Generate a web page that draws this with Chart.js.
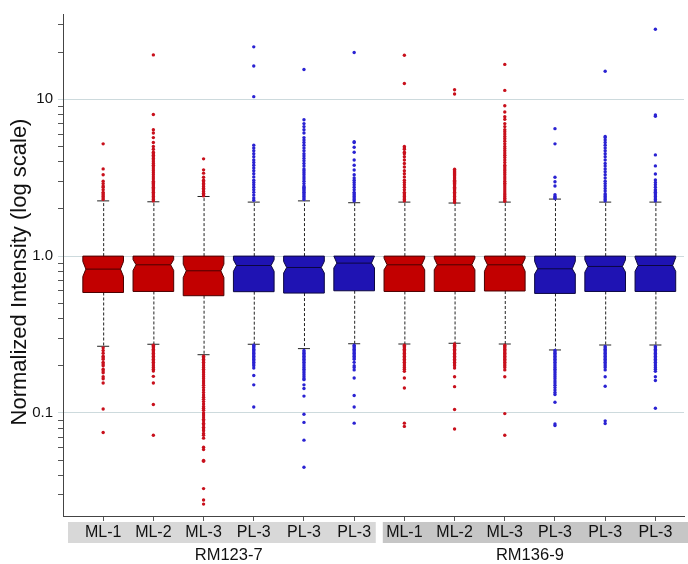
<!DOCTYPE html>
<html>
<head>
<meta charset="utf-8">
<script src="https://cdn.jsdelivr.net/npm/chart.js@4/dist/chart.umd.min.js"></script>
<style>
  html, body { margin: 0; padding: 0; background: #fff; }
  #wrap { width: 688px; height: 564px; }
</style>
</head>
<body>
<div id="wrap"><canvas id="intensityChart"></canvas></div>
<script>
const categories = ['ML-1', 'ML-2', 'ML-3', 'PL-3', 'PL-3', 'PL-3', 'ML-1', 'ML-2', 'ML-3', 'PL-3', 'PL-3', 'PL-3'];
const groups = ['RM123-7', 'RM136-9'];
const yTitle = 'Normalized Intensity (log scale)';

// box statistics
const q1 = [0.586, 0.595, 0.559, 0.593, 0.581, 0.601, 0.595, 0.595, 0.599, 0.578, 0.595, 0.595];
const q3 = [1.0, 1.0, 1.0, 1.0, 1.0, 1.0, 1.0, 1.0, 1.0, 1.0, 1.0, 1.0];
const medians = [0.826, 0.88, 0.806, 0.871, 0.846, 0.902, 0.88, 0.88, 0.88, 0.83, 0.859, 0.871];
const notchLow = [0.741, 0.81, 0.73, 0.80, 0.78, 0.84, 0.818, 0.818, 0.80, 0.768, 0.79, 0.80];
const notchHigh = [0.924, 0.95, 0.889, 0.947, 0.924, 1.0, 0.97, 0.97, 0.966, 0.924, 0.947, 0.978];
const whiskerLow = [0.266, 0.274, 0.235, 0.274, 0.257, 0.276, 0.275, 0.278, 0.275, 0.252, 0.271, 0.271];
const whiskerHigh = [2.25, 2.22, 2.40, 2.21, 2.25, 2.19, 2.21, 2.18, 2.21, 2.31, 2.21, 2.21];

const outliersHigh = [
  [5.2, 3.6, 3.3, 3.0, 2.9, 2.8, 2.75, 2.65, 2.55, 2.5, 2.45, 2.4, 2.35, 2.3],
  [19.2, 8.0, 6.4, 6.1, 5.7, 5.3, 5.0, 4.8, 4.6, 4.5, 4.4, 4.3, 4.2, 4.1, 4.0, 3.9, 3.8, 3.7, 3.6, 3.5, 3.4, 3.3, 3.2, 3.1, 3.0, 2.95, 2.9, 2.85, 2.8, 2.75, 2.7, 2.65, 2.6, 2.55, 2.5, 2.45, 2.4, 2.35, 2.3, 2.25],
  [4.17, 3.55, 3.38, 3.18, 3.05, 2.98, 2.9, 2.85, 2.78, 2.71, 2.65, 2.58, 2.52, 2.46, 2.42],
  [21.6, 16.3, 10.4, 5.1, 4.9, 4.7, 4.5, 4.3, 4.1, 3.95, 3.8, 3.65, 3.5, 3.35, 3.2, 3.05, 2.95, 2.85, 2.75, 2.65, 2.55, 2.45, 2.35, 2.27],
  [15.5, 7.4, 7.0, 6.7, 6.4, 6.1, 5.7, 5.5, 5.3, 5.1, 4.9, 4.7, 4.5, 4.35, 4.2, 4.05, 3.9, 3.75, 3.6, 3.5, 3.4, 3.3, 3.2, 3.1, 3.0, 2.9, 2.8, 2.75, 2.7, 2.65, 2.6, 2.55, 2.5, 2.45, 2.4, 2.35, 2.3],
  [19.9, 5.37, 5.3, 4.95, 4.6, 4.1, 3.8, 3.54, 3.3, 3.15, 3.05, 2.95, 2.85, 2.75, 2.65, 2.55, 2.5, 2.45, 2.4, 2.35, 2.3, 2.25],
  [19.1, 12.6, 5.0, 4.9, 4.8, 4.6, 4.5, 4.3, 4.1, 3.9, 3.7, 3.5, 3.35, 3.2, 3.05, 2.95, 2.85, 2.75, 2.65, 2.55, 2.5, 2.45, 2.4, 2.35, 2.3, 2.25],
  [11.5, 10.8, 3.58, 3.5, 3.45, 3.4, 3.35, 3.3, 3.25, 3.2, 3.15, 3.1, 3.05, 3.0, 2.95, 2.9, 2.85, 2.8, 2.75, 2.7, 2.65, 2.6, 2.55, 2.5, 2.45, 2.4, 2.35, 2.3, 2.25, 2.2],
  [16.7, 11.4, 9.1, 8.3, 7.75, 7.45, 7.0, 6.7, 6.4, 6.2, 6.0, 5.8, 5.6, 5.4, 5.2, 5.0, 4.85, 4.7, 4.55, 4.4, 4.25, 4.1, 3.95, 3.8, 3.7, 3.6, 3.5, 3.4, 3.3, 3.2, 3.1, 3.0, 2.92, 2.84, 2.76, 2.68, 2.6, 2.53, 2.46, 2.4, 2.34, 2.28, 2.24],
  [6.5, 5.2, 3.18, 2.98, 2.8, 2.46, 2.4, 2.36, 2.33],
  [15.1, 5.8, 5.7, 5.5, 5.3, 5.1, 4.9, 4.7, 4.5, 4.3, 4.1, 3.9, 3.75, 3.6, 3.45, 3.3, 3.15, 3.0, 2.9, 2.8, 2.7, 2.6, 2.5, 2.45, 2.4, 2.35, 2.3, 2.25],
  [28.0, 7.94, 7.8, 4.42, 3.76, 3.34, 3.06, 2.95, 2.85, 2.75, 2.65, 2.6, 2.55, 2.5, 2.45, 2.4, 2.35, 2.3, 2.25]
];
const outliersLow = [
  [0.26, 0.25, 0.24, 0.23, 0.225, 0.22, 0.21, 0.205, 0.2, 0.19, 0.185, 0.18, 0.17, 0.165, 0.155, 0.106, 0.075],
  [0.27, 0.265, 0.26, 0.255, 0.25, 0.245, 0.24, 0.235, 0.23, 0.225, 0.22, 0.215, 0.21, 0.205, 0.2, 0.195, 0.19, 0.185, 0.171, 0.155, 0.113, 0.072],
  [0.23, 0.225, 0.22, 0.215, 0.21, 0.205, 0.2, 0.195, 0.19, 0.185, 0.18, 0.175, 0.17, 0.165, 0.16, 0.155, 0.15, 0.145, 0.14, 0.135, 0.13, 0.126, 0.122, 0.118, 0.114, 0.11, 0.107, 0.104, 0.1, 0.097, 0.094, 0.091, 0.089, 0.086, 0.084, 0.081, 0.079, 0.077, 0.074, 0.072, 0.069, 0.0604, 0.0584, 0.0498, 0.0492, 0.0329, 0.0278, 0.0262],
  [0.27, 0.265, 0.26, 0.255, 0.25, 0.245, 0.24, 0.235, 0.23, 0.225, 0.22, 0.215, 0.21, 0.205, 0.2, 0.193, 0.173, 0.151, 0.109],
  [0.25, 0.245, 0.24, 0.235, 0.23, 0.225, 0.22, 0.215, 0.21, 0.205, 0.2, 0.195, 0.19, 0.185, 0.18, 0.175, 0.17, 0.165, 0.163, 0.151, 0.143, 0.128, 0.098, 0.087, 0.067, 0.045],
  [0.27, 0.265, 0.26, 0.255, 0.25, 0.245, 0.24, 0.235, 0.23, 0.225, 0.22, 0.21, 0.2, 0.195, 0.188, 0.167, 0.129, 0.109, 0.086],
  [0.27, 0.265, 0.26, 0.255, 0.25, 0.245, 0.24, 0.235, 0.23, 0.225, 0.22, 0.215, 0.21, 0.205, 0.2, 0.195, 0.19, 0.184, 0.167, 0.144, 0.086, 0.082],
  [0.275, 0.27, 0.265, 0.26, 0.255, 0.25, 0.245, 0.24, 0.235, 0.23, 0.225, 0.22, 0.215, 0.21, 0.205, 0.2, 0.193, 0.17, 0.147, 0.105, 0.079],
  [0.27, 0.265, 0.26, 0.255, 0.25, 0.245, 0.24, 0.235, 0.23, 0.225, 0.22, 0.215, 0.21, 0.205, 0.2, 0.195, 0.188, 0.17, 0.099, 0.072],
  [0.25, 0.245, 0.24, 0.235, 0.23, 0.225, 0.22, 0.215, 0.21, 0.205, 0.2, 0.195, 0.19, 0.185, 0.18, 0.175, 0.17, 0.165, 0.16, 0.155, 0.15, 0.145, 0.14, 0.135, 0.131, 0.117, 0.085, 0.083],
  [0.265, 0.26, 0.255, 0.25, 0.245, 0.24, 0.235, 0.23, 0.225, 0.22, 0.215, 0.21, 0.205, 0.2, 0.195, 0.188, 0.17, 0.148, 0.089, 0.0855],
  [0.265, 0.26, 0.255, 0.25, 0.245, 0.24, 0.235, 0.23, 0.225, 0.22, 0.215, 0.21, 0.205, 0.2, 0.195, 0.19, 0.184, 0.17, 0.161, 0.107]
];

const yTickValues = [0.1, 1, 10];
const yTickLabels = ['0.1', '1.0', '10'];

const RED = '#c20000';
const BLUE = '#1f13b3';
const isRed = i => categories[i].startsWith('ML');

// outlier points, split by colour
const redPoints = [];
const bluePoints = [];
categories.forEach((c, i) => {
  const target = isRed(i) ? redPoints : bluePoints;
  outliersHigh[i].concat(outliersLow[i]).forEach(v => target.push({ x: i, y: v }));
});

const isMajor = v => yTickValues.some(t => Math.abs(t - v) / t < 1e-6);

// notched boxes + whiskers drawn on the chart's own scales
const boxPlugin = {
  id: 'boxes',
  beforeDatasetsDraw(chart) {
    const { ctx, scales: { x, y } } = chart;
    ctx.save();
    categories.forEach((c, i) => {
      const xc = x.getPixelForValue(i);
      const hw = x.getPixelForValue(i + 0.405) - xc;
      const inset = hw * 0.15;
      const cap = x.getPixelForValue(i + 0.12) - xc;
      const yq1 = y.getPixelForValue(q1[i]);
      const yq3 = y.getPixelForValue(q3[i]);
      const ym = y.getPixelForValue(medians[i]);
      const yn1 = y.getPixelForValue(notchLow[i]);
      const yn2 = Math.max(y.getPixelForValue(notchHigh[i]), yq3);
      const yw1 = y.getPixelForValue(whiskerLow[i]);
      const yw2 = y.getPixelForValue(whiskerHigh[i]);

      // whiskers
      ctx.strokeStyle = '#222';
      ctx.lineWidth = 1;
      ctx.setLineDash([3, 2]);
      ctx.beginPath();
      ctx.moveTo(xc + 0.5, yq3); ctx.lineTo(xc + 0.5, yw2);
      ctx.moveTo(xc + 0.5, yq1); ctx.lineTo(xc + 0.5, yw1);
      ctx.stroke();
      ctx.setLineDash([]);
      ctx.beginPath();
      ctx.moveTo(xc - cap, yw2); ctx.lineTo(xc + cap, yw2);
      ctx.moveTo(xc - cap, yw1); ctx.lineTo(xc + cap, yw1);
      ctx.stroke();

      // notched box
      ctx.beginPath();
      ctx.moveTo(xc - hw, yq3);
      ctx.lineTo(xc + hw, yq3);
      ctx.lineTo(xc + hw, yn2);
      ctx.lineTo(xc + hw - inset, ym);
      ctx.lineTo(xc + hw, yn1);
      ctx.lineTo(xc + hw, yq1);
      ctx.lineTo(xc - hw, yq1);
      ctx.lineTo(xc - hw, yn1);
      ctx.lineTo(xc - hw + inset, ym);
      ctx.lineTo(xc - hw, yn2);
      ctx.closePath();
      ctx.fillStyle = isRed(i) ? RED : BLUE;
      ctx.fill();
      ctx.strokeStyle = isRed(i) ? '#4a0000' : '#0c0740';
      ctx.lineWidth = 1;
      ctx.stroke();
      ctx.beginPath();
      ctx.moveTo(xc - hw + inset, ym); ctx.lineTo(xc + hw - inset, ym);
      ctx.stroke();
    });
    ctx.restore();
  }
};

// grey bands behind category labels, group names, y title
const groupPlugin = {
  id: 'groups',
  beforeDraw(chart) {
    const { ctx, chartArea, scales: { x } } = chart;
    ctx.save();
    ctx.fillStyle = '#fff';
    ctx.fillRect(0, 0, chart.width, chart.height);
    const top = chartArea.bottom + 6;
    ctx.fillStyle = '#d8d8d8';
    ctx.fillRect(x.getPixelForValue(-0.7), top, x.getPixelForValue(5.43) - x.getPixelForValue(-0.7), 21);
    ctx.fillStyle = '#c6c6c6';
    ctx.fillRect(x.getPixelForValue(5.57), top, chart.width - x.getPixelForValue(5.57), 21);
    ctx.restore();
  },
  afterDraw(chart) {
    const { ctx, chartArea, scales: { x } } = chart;
    ctx.save();
    ctx.font = '16.5px "Liberation Sans", Arial, sans-serif';
    ctx.fillStyle = '#111';
    ctx.textAlign = 'center';
    ctx.textBaseline = 'middle';
    groups.forEach((g, k) => {
      ctx.fillText(g, x.getPixelForValue(k * 6 + 2.5), chartArea.bottom + 39);
    });
    ctx.translate(20, 272);
    ctx.rotate(-Math.PI / 2);
    ctx.font = '22px "Liberation Sans", Arial, sans-serif';
    ctx.fillText(yTitle, 0, 0);
    ctx.restore();
  }
};

Chart.defaults.font.family = '"Liberation Sans", Arial, sans-serif';

new Chart(document.getElementById('intensityChart'), {
  type: 'scatter',
  data: {
    datasets: [
      { data: redPoints, backgroundColor: '#c8101c', borderWidth: 0, pointRadius: 1.7 },
      { data: bluePoints, backgroundColor: '#2a22d2', borderWidth: 0, pointRadius: 1.7 }
    ]
  },
  options: {
    responsive: true,
    maintainAspectRatio: false,
    animation: false,
    layout: { padding: { top: 7, right: 0, left: 0, bottom: 0 } },
    plugins: { legend: { display: false }, tooltip: { enabled: false } },
    scales: {
      x: {
        type: 'linear',
        min: -0.8,
        max: 11.57,
        afterBuildTicks: s => { s.ticks = categories.map((c, i) => ({ value: i })); },
        afterFit: s => { s.height = 48; },
        ticks: {
          callback: v => categories[v],
          autoSkip: false,
          maxRotation: 0,
          padding: 2,
          color: '#111',
          font: { size: 16 }
        },
        grid: { drawOnChartArea: false, tickLength: 5, tickColor: '#555' },
        border: { color: '#444' }
      },
      y: {
        type: 'logarithmic',
        min: 0.022,
        max: 35,
        afterBuildTicks: s => {
          const t = [];
          [0.01, 0.1, 1, 10].forEach(d => {
            for (let m = 1; m <= 9; m++) {
              const v = +(d * m).toPrecision(6);
              if (v >= s.min && v <= s.max) t.push({ value: v });
            }
          });
          s.ticks = t;
        },
        afterFit: s => { s.width = 63; },
        ticks: {
          callback: v => {
            const k = yTickValues.findIndex(t => Math.abs(t - v) / t < 1e-6);
            return k >= 0 ? yTickLabels[k] : '';
          },
          autoSkip: false,
          padding: 5,
          color: '#111',
          font: { size: 15 }
        },
        grid: {
          color: c => isMajor(c.tick.value) ? '#cddadd' : 'rgba(0,0,0,0)',
          tickColor: c => isMajor(c.tick.value) ? '#cddadd' : '#555',
          tickLength: 5
        },
        border: { color: '#444' }
      }
    }
  },
  plugins: [groupPlugin, boxPlugin]
});
</script>
</body>
</html>
